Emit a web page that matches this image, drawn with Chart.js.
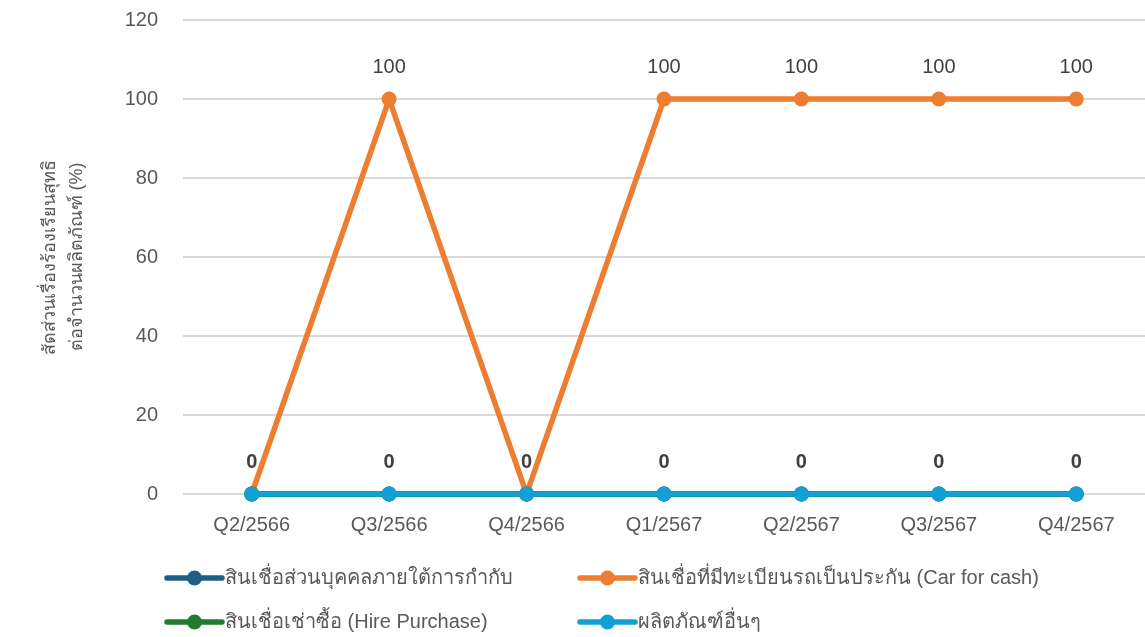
<!DOCTYPE html>
<html>
<head>
<meta charset="utf-8">
<script src="https://cdn.jsdelivr.net/npm/chart.js@4.4.1/dist/chart.umd.min.js"></script>
<style>
  html, body { margin: 0; padding: 0; background: #fff; overflow: hidden; }
  #wrap { position: relative; width: 1145px; height: 637px; }
  #chart { display: block; }
</style>
</head>
<body>
<div id="wrap"><canvas id="chart"></canvas></div>
<script>
const categories = ["Q2/2566", "Q3/2566", "Q4/2566", "Q1/2567", "Q2/2567", "Q3/2567", "Q4/2567"]
const seriesNames = [
  "สินเชื่อส่วนบุคคลภายใต้การกำกับ",
  "สินเชื่อที่มีทะเบียนรถเป็นประกัน (Car for cash)",
  "สินเชื่อเช่าซื้อ (Hire Purchase)",
  "ผลิตภัณฑ์อื่นๆ"
]
const personalLoan = [0, 0, 0, 0, 0, 0, 0]
const carForCash = [0, 100, 0, 100, 100, 100, 100]
const hirePurchase = [0, 0, 0, 0, 0, 0, 0]
const otherProducts = [0, 0, 0, 0, 0, 0, 0]
const yTicks = [0, 20, 40, 60, 80, 100, 120]
const yTitle = ["สัดส่วนเรื่องร้องเรียนสุทธิ", "ต่อจำนวนผลิตภัณฑ์ (%)"]

const colors = ["#1F5F86", "#ED7D31", "#217A2F", "#12A0D7"]
const fontFamily = "'Liberation Sans', Arial, sans-serif"

const seriesValues = [personalLoan, carForCash, hirePurchase, otherProducts]

// which series get value labels, and how
const labelStyle = { 1: { weight: "normal", skipZero: true }, 3: { weight: "bold", skipZero: false } }

const pointLabels = {
  id: "pointLabels",
  afterDatasetsDraw(chart) {
    const ctx = chart.ctx
    ctx.save()
    ctx.textAlign = "center"
    ctx.textBaseline = "middle"
    ctx.fillStyle = "#404040"
    Object.keys(labelStyle).forEach(k => {
      const i = Number(k)
      const st = labelStyle[i]
      const meta = chart.getDatasetMeta(i)
      ctx.font = st.weight + " 20px " + fontFamily
      meta.data.forEach((pt, j) => {
        const v = seriesValues[i][j]
        if (st.skipZero && v === 0) return
        ctx.fillText(String(v), pt.x, pt.y - 32)
      })
    })
    ctx.restore()
  },
  afterDraw(chart) {
    // two-column legend under the axis
    const ctx = chart.ctx
    const cols = [167, 580]
    const rows = [578, 622]
    ctx.save()
    chart.data.datasets.forEach((ds, i) => {
      const x = cols[i % 2]
      const y = rows[Math.floor(i / 2)]
      ctx.strokeStyle = ds.borderColor
      ctx.lineWidth = 5.5
      ctx.lineCap = "round"
      ctx.beginPath()
      ctx.moveTo(x, y)
      ctx.lineTo(x + 55, y)
      ctx.stroke()
      ctx.fillStyle = ds.borderColor
      ctx.beginPath()
      ctx.arc(x + 27.5, y, 7.5, 0, Math.PI * 2)
      ctx.fill()
      ctx.fillStyle = "#595959"
      ctx.font = "20px " + fontFamily
      ctx.textAlign = "left"
      ctx.textBaseline = "middle"
      ctx.fillText(ds.label, x + 58, y)
    })
    ctx.restore()
  }
}

new Chart(document.getElementById("chart"), {
  type: "line",
  data: {
    labels: categories,
    datasets: seriesValues.map((vals, i) => ({
      label: seriesNames[i],
      data: vals,
      borderColor: colors[i],
      backgroundColor: colors[i],
      pointBackgroundColor: colors[i],
      pointBorderColor: colors[i],
      borderWidth: 5.5,
      pointRadius: 7.5,
      pointBorderWidth: 0,
      tension: 0,
      clip: false,
      order: seriesValues.length - i
    }))
  },
  options: {
    responsive: true,
    maintainAspectRatio: false,
    animation: false,
    layout: { autoPadding: false, padding: { top: 20, right: 0, bottom: 93, left: 0 } },
    plugins: { legend: { display: false }, tooltip: { enabled: false } },
    scales: {
      x: {
        offset: true,
        grid: { display: false },
        border: { display: false },
        ticks: { color: "#595959", font: { family: fontFamily, size: 20 }, padding: 11, maxRotation: 0 },
        afterFit(scale) {
          scale.height = 50
          scale.paddingLeft = 0
          scale.paddingRight = 0
        }
      },
      y: {
        min: 0,
        max: 120,
        afterBuildTicks(scale) { scale.ticks = yTicks.map(v => ({ value: v })) },
        grid: { color: "#D9D9D9", lineWidth: 2, drawTicks: false },
        border: { display: false },
        ticks: { color: "#595959", font: { family: fontFamily, size: 20 }, padding: 25 },
        title: {
          display: true,
          text: yTitle,
          color: "#595959",
          font: { family: fontFamily, size: 18, lineHeight: 1.5 },
          padding: { top: 37, bottom: 0 }
        },
        afterFit(scale) {
          scale.width = 183
          scale.paddingTop = 0
          scale.paddingBottom = 0
        }
      }
    }
  },
  plugins: [pointLabels]
})
</script>
</body>
</html>
